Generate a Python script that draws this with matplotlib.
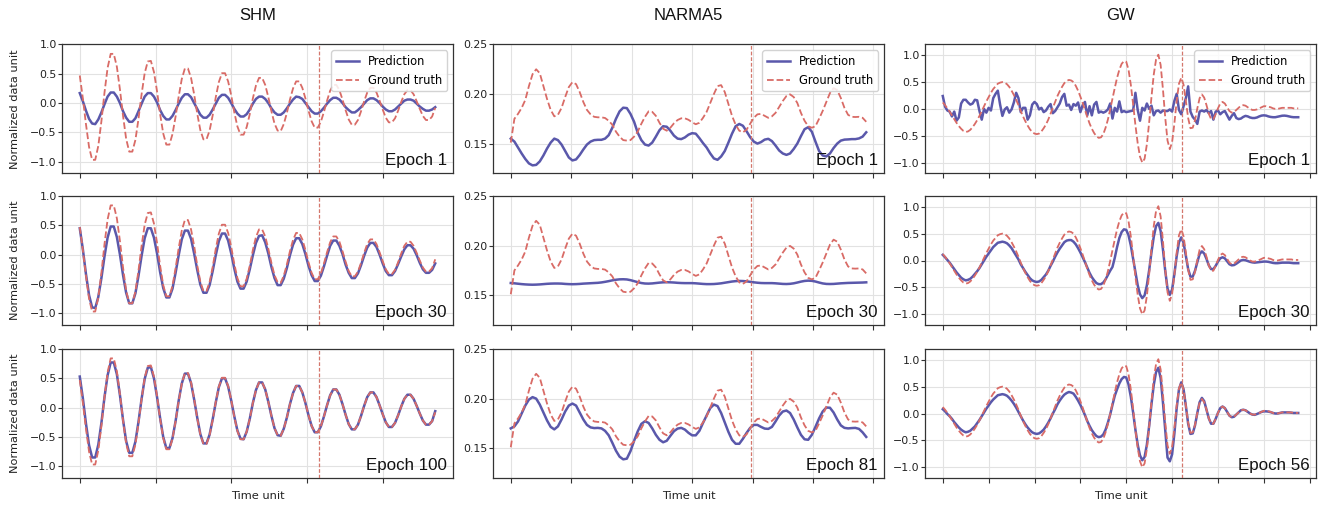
import numpy as np
import matplotlib
matplotlib.use("Agg")
import matplotlib.pyplot as plt

# ---------------- data ----------------
datasets = ["SHM", "NARMA5", "GW"]
epochs = {"SHM": [1, 30, 100], "NARMA5": [1, 30, 81], "GW": [1, 30, 56]}
legend_labels = ["Prediction", "Ground truth"]

SHM_STEP = 469 / 115
shm_truth = [
    0.47, 0.08, -0.36, -0.75, -0.97,
    -0.97, -0.73, -0.31, 0.18, 0.60, 0.84,
    0.84, 0.62, 0.23, -0.22, -0.61, -0.83,
    -0.83, -0.63, -0.27, 0.15, 0.51, 0.71,
    0.72, 0.53, 0.20, -0.19, -0.52, -0.71,
    -0.71, -0.53, -0.23, 0.11, 0.41, 0.59,
    0.59, 0.43, 0.15, -0.18, -0.46, -0.62,
    -0.62, -0.47, -0.21, 0.10, 0.36, 0.51,
    0.51, 0.37, 0.13, -0.16, -0.40, -0.54,
    -0.54, -0.41, -0.19, 0.08, 0.30, 0.43,
    0.43, 0.31, 0.10, -0.14, -0.35, -0.47,
    -0.48, -0.36, -0.17, 0.06, 0.25, 0.37,
    0.37, 0.26, 0.08, -0.13, -0.31, -0.42,
    -0.42, -0.32, -0.15, 0.04, 0.21, 0.31,
    0.31, 0.22, 0.06, -0.12, -0.28, -0.37,
    -0.37, -0.29, -0.14, 0.03, 0.18, 0.26,
    0.26, 0.18, 0.04, -0.11, -0.25, -0.33,
    -0.33, -0.26, -0.13, 0.02, 0.15, 0.22,
    0.22, 0.15, 0.03, -0.10, -0.22, -0.29,
    -0.29, -0.23, -0.08,
]
shm_pred_e1 = [
    0.17, 0.03, -0.13, -0.27, -0.35,
    -0.36, -0.28, -0.16, -0.02, 0.11, 0.18,
    0.18, 0.11, 0.00, -0.14, -0.25, -0.32,
    -0.32, -0.26, -0.14, -0.01, 0.11, 0.17,
    0.17, 0.11, 0.01, -0.12, -0.22, -0.28,
    -0.28, -0.22, -0.12, -0.01, 0.09, 0.15,
    0.15, 0.10, 0.00, -0.10, -0.20, -0.25,
    -0.25, -0.20, -0.11, -0.01, 0.09, 0.14,
    0.14, 0.09, 0.00, -0.10, -0.18, -0.23,
    -0.23, -0.19, -0.11, -0.01, 0.07, 0.11,
    0.11, 0.07, 0.00, -0.09, -0.16, -0.20,
    -0.20, -0.16, -0.09, -0.01, 0.06, 0.11,
    0.10, 0.07, 0.00, -0.07, -0.14, -0.18,
    -0.18, -0.14, -0.08, -0.01, 0.05, 0.09,
    0.09, 0.06, 0.00, -0.07, -0.12, -0.16,
    -0.16, -0.12, -0.07, -0.01, 0.05, 0.08,
    0.08, 0.05, 0.00, -0.06, -0.11, -0.14,
    -0.14, -0.11, -0.06, -0.01, 0.04, 0.06,
    0.06, 0.04, -0.01, -0.06, -0.10, -0.13,
    -0.13, -0.11, -0.07,
]
shm_pred_e30 = [
    0.45, 0.09, -0.33, -0.69, -0.90,
    -0.91, -0.72, -0.40, -0.03, 0.29, 0.48,
    0.48, 0.30, 0.00, -0.35, -0.65, -0.83,
    -0.83, -0.66, -0.36, -0.02, 0.28, 0.45,
    0.45, 0.29, 0.02, -0.30, -0.57, -0.73,
    -0.73, -0.58, -0.31, -0.01, 0.26, 0.41,
    0.41, 0.27, 0.02, -0.26, -0.51, -0.65,
    -0.65, -0.52, -0.28, -0.01, 0.23, 0.36,
    0.36, 0.24, 0.02, -0.24, -0.46, -0.58,
    -0.58, -0.46, -0.25, -0.01, 0.20, 0.32,
    0.33, 0.21, 0.02, -0.21, -0.40, -0.52,
    -0.52, -0.41, -0.23, -0.01, 0.17, 0.28,
    0.28, 0.18, 0.01, -0.19, -0.35, -0.45,
    -0.45, -0.36, -0.20, -0.02, 0.15, 0.24,
    0.24, 0.15, 0.01, -0.17, -0.31, -0.40,
    -0.40, -0.32, -0.18, -0.02, 0.12, 0.20,
    0.20, 0.13, 0.00, -0.15, -0.28, -0.35,
    -0.35, -0.28, -0.16, -0.03, 0.09, 0.16,
    0.16, 0.10, -0.01, -0.14, -0.25, -0.31,
    -0.31, -0.26, -0.15,
]
shm_pred_e100 = [
    0.53, 0.16, -0.27, -0.64, -0.85,
    -0.85, -0.63, -0.26, 0.18, 0.55, 0.77,
    0.77, 0.57, 0.21, -0.21, -0.57, -0.77,
    -0.77, -0.58, -0.24, 0.15, 0.49, 0.68,
    0.69, 0.50, 0.18, -0.18, -0.50, -0.69,
    -0.69, -0.52, -0.23, 0.12, 0.41, 0.58,
    0.58, 0.42, 0.14, -0.17, -0.45, -0.61,
    -0.61, -0.46, -0.20, 0.09, 0.35, 0.50,
    0.50, 0.36, 0.12, -0.15, -0.39, -0.53,
    -0.54, -0.41, -0.19, 0.08, 0.30, 0.43,
    0.43, 0.31, 0.10, -0.14, -0.35, -0.47,
    -0.48, -0.36, -0.17, 0.06, 0.25, 0.37,
    0.37, 0.26, 0.08, -0.13, -0.31, -0.42,
    -0.42, -0.32, -0.15, 0.04, 0.21, 0.31,
    0.31, 0.22, 0.06, -0.12, -0.28, -0.37,
    -0.37, -0.29, -0.14, 0.03, 0.18, 0.26,
    0.26, 0.18, 0.04, -0.11, -0.25, -0.33,
    -0.33, -0.26, -0.13, 0.02, 0.15, 0.22,
    0.22, 0.15, 0.03, -0.10, -0.22, -0.29,
    -0.29, -0.23, -0.06,
]

NARMA_STEP = 6
narma_truth = [
    0.151, 0.175, 0.180, 0.186, 0.194, 0.208, 0.220, 0.225, 0.221, 0.208,
    0.195, 0.184, 0.1775, 0.179, 0.186, 0.197, 0.207, 0.212, 0.210, 0.202,
    0.192, 0.184, 0.1795, 0.177, 0.1765, 0.1765, 0.1758, 0.173, 0.169, 0.162,
    0.157, 0.1535, 0.153, 0.1535, 0.157, 0.162, 0.170, 0.177, 0.1825, 0.182,
    0.178, 0.171, 0.165, 0.163, 0.166, 0.1705, 0.1738, 0.1755, 0.1755, 0.174,
    0.1715, 0.1695, 0.171, 0.176, 0.182, 0.191, 0.200, 0.208, 0.209, 0.202,
    0.190, 0.178, 0.169, 0.163, 0.1614, 0.164, 0.170, 0.176, 0.1795, 0.180,
    0.178, 0.176, 0.1775, 0.181, 0.187, 0.193, 0.198, 0.1997, 0.197, 0.191,
    0.181, 0.173, 0.1675, 0.166, 0.1675, 0.175, 0.183, 0.192, 0.201, 0.206,
    0.204, 0.196, 0.186, 0.179, 0.177, 0.1768, 0.177, 0.176, 0.172,
]
narma_pred_e1 = [
    0.155, 0.152, 0.146, 0.140, 0.1345, 0.130, 0.128, 0.1285, 0.132, 0.138,
    0.145, 0.151, 0.155, 0.1535, 0.149, 0.1425, 0.136, 0.133, 0.134, 0.1385,
    0.144, 0.149, 0.152, 0.1535, 0.1538, 0.1538, 0.155, 0.1585, 0.166, 0.175,
    0.1825, 0.1862, 0.1858, 0.180, 0.172, 0.161, 0.1535, 0.149, 0.148, 0.151,
    0.157, 0.1635, 0.1675, 0.167, 0.163, 0.158, 0.155, 0.1545, 0.1562, 0.159,
    0.1605, 0.160, 0.1555, 0.1505, 0.146, 0.140, 0.135, 0.1336, 0.137, 0.1425,
    0.151, 0.160, 0.1675, 0.1698, 0.168, 0.1625, 0.1565, 0.152, 0.150, 0.1515,
    0.154, 0.1548, 0.1525, 0.148, 0.143, 0.140, 0.1386, 0.140, 0.1445, 0.150,
    0.1575, 0.1645, 0.1665, 0.162, 0.152, 0.1425, 0.138, 0.137, 0.140, 0.1455,
    0.150, 0.153, 0.154, 0.1542, 0.1545, 0.1545, 0.1552, 0.157, 0.1614,
]
narma_pred_e30 = [
    0.1623, 0.1620, 0.1616, 0.1612, 0.1609, 0.1607, 0.1606, 0.1607, 0.1609, 0.1612,
    0.1615, 0.1617, 0.1618, 0.1618, 0.1617, 0.1614, 0.1612, 0.1611, 0.1612, 0.1614,
    0.1617, 0.1619, 0.1621, 0.1623, 0.1625, 0.1629, 0.1635, 0.1642, 0.1650, 0.1656,
    0.1660, 0.1661, 0.1659, 0.1652, 0.1642, 0.1632, 0.1623, 0.1618, 0.1617, 0.1619,
    0.1623, 0.1627, 0.1630, 0.1631, 0.1630, 0.1628, 0.1625, 0.1623, 0.1622, 0.1622,
    0.1622, 0.1620, 0.1617, 0.1614, 0.1612, 0.1612, 0.1613, 0.1616, 0.1620, 0.1626,
    0.1632, 0.1638, 0.1642, 0.1644, 0.1643, 0.1640, 0.1635, 0.1630, 0.1626, 0.1623,
    0.1622, 0.1622, 0.1622, 0.1620, 0.1617, 0.1614, 0.1613, 0.1615, 0.1620, 0.1628,
    0.1637, 0.1644, 0.1647, 0.1645, 0.1638, 0.1628, 0.1619, 0.1614, 0.1613, 0.1614,
    0.1617, 0.1620, 0.1622, 0.1624, 0.1625, 0.1626, 0.1627, 0.1628, 0.1630,
]
narma_pred_e81 = [
    0.170, 0.172, 0.177, 0.185, 0.193, 0.199, 0.2015, 0.200, 0.194, 0.186,
    0.178, 0.1715, 0.169, 0.172, 0.179, 0.187, 0.193, 0.195, 0.193, 0.186,
    0.179, 0.1735, 0.1710, 0.1703, 0.1705, 0.1700, 0.1675, 0.1630, 0.1555, 0.1475,
    0.1415, 0.1388, 0.1395, 0.1470, 0.1575, 0.167, 0.1745, 0.1772, 0.1755, 0.170,
    0.1635, 0.1585, 0.1560, 0.1575, 0.1625, 0.1672, 0.1698, 0.1705, 0.1688, 0.1655,
    0.1630, 0.1630, 0.1675, 0.1755, 0.1830, 0.1905, 0.1940, 0.1925, 0.1855, 0.1760,
    0.1665, 0.1585, 0.1545, 0.1545, 0.1595, 0.1654, 0.1705, 0.1735, 0.1735, 0.1715,
    0.1698, 0.1695, 0.1715, 0.1770, 0.1830, 0.1870, 0.1880, 0.1855, 0.1790, 0.1710,
    0.1635, 0.1590, 0.1585, 0.1635, 0.1715, 0.1800, 0.1870, 0.1910, 0.1908, 0.1860,
    0.1790, 0.1730, 0.1705, 0.1700, 0.1703, 0.1705, 0.1695, 0.1660, 0.1614,
]

GW_STEP = 5
gw_truth = [
    0.12, 0.07, 0.01, -0.05, -0.12, -0.19, -0.26, -0.32, -0.37, -0.41,
    -0.43, -0.42, -0.39, -0.34, -0.28, -0.21, -0.13, -0.04, 0.05, 0.14, 0.22, 0.30, 0.37, 0.42, 0.47, 0.49,
    0.50, 0.49, 0.46, 0.41, 0.34, 0.26, 0.17, 0.07, -0.04, -0.14, -0.23, -0.31, -0.38, -0.43, -0.46,
    -0.47, -0.46, -0.42, -0.36, -0.29, -0.20, -0.09, 0.02, 0.13, 0.24, 0.33, 0.41, 0.48, 0.52, 0.54,
    0.53, 0.50, 0.43, 0.34, 0.23, 0.11, -0.02, -0.15, -0.27, -0.37, -0.45, -0.51, -0.54,
    -0.53, -0.47, -0.35, -0.20, -0.01, 0.19, 0.39, 0.58, 0.73, 0.84, 0.89,
    0.88, 0.73, 0.45, 0.09, -0.30, -0.64, -0.89, -1.00,
    -0.93, -0.66, -0.25, 0.22, 0.64, 0.92, 1.01,
    0.82, 0.37, -0.16, -0.59, -0.75,
    -0.62, -0.27, 0.15, 0.47, 0.58,
    0.45, 0.15, -0.17, -0.36,
    -0.35, -0.21, 0.01, 0.20, 0.27,
    0.21, 0.07, -0.09, -0.19,
    -0.19, -0.10, 0.01, 0.10, 0.13,
    0.10, 0.03, -0.04, -0.07,
    -0.06, -0.02, 0.02, 0.06, 0.07,
    0.06, 0.03, 0.00, -0.02, -0.02,
    -0.01, 0.01, 0.03, 0.05, 0.05,
    0.04, 0.03, 0.01, 0.00,
    0.00, 0.01, 0.02, 0.02,
    0.02, 0.02, 0.02, 0.01, 0.01, 0.01,
]
gw_pred_e1 = [
    0.24, 0.04, -0.03, -0.05, -0.14, -0.05, -0.22, -0.16, 0.10, 0.17,
    0.17, 0.12, 0.08, 0.10, 0.17, 0.16, -0.04, -0.20, 0.00, -0.07,
    0.02, -0.03, 0.20, 0.28, 0.34, 0.08, -0.13, -0.01, 0.03, -0.07,
    -0.01, 0.12, 0.30, 0.20, -0.06, 0.02, 0.02, -0.20, -0.12, 0.08,
    0.13, 0.09, -0.01, 0.02, -0.06, -0.03, 0.04, 0.09, -0.08, -0.04,
    0.03, 0.10, 0.22, 0.28, 0.06, 0.08, -0.02, 0.09, 0.06, 0.12,
    -0.06, 0.07, 0.13, -0.12, 0.05, -0.12, 0.08, 0.13, -0.07, -0.05,
    -0.07, -0.05, -0.01, 0.10, -0.18, 0.02, -0.05, 0.14, -0.06, -0.04,
    -0.06, -0.05, -0.04, -0.03, 0.30, -0.02, -0.22, 0.02, -0.03, 0.10,
    0.00, 0.06, -0.12, -0.04, -0.03, -0.07, -0.03, -0.04, -0.04, -0.01,
    -0.05, 0.15, 0.28, -0.02, -0.10, 0.05, 0.20, 0.42, -0.05, -0.15,
    -0.20, -0.28, -0.05, -0.03, -0.05, -0.02, -0.08, -0.04, -0.20, -0.05,
    -0.03, -0.10, -0.06, -0.04, -0.12, -0.20, -0.13, -0.08, -0.17, -0.19,
    -0.18, -0.15, -0.13, -0.14, -0.16, -0.17, -0.17, -0.16, -0.14, -0.125,
    -0.12, -0.125, -0.14, -0.15, -0.155, -0.155, -0.145, -0.135, -0.127, -0.125,
    -0.13, -0.14, -0.15, -0.155, -0.155, -0.155,
]
gw_pred_e30 = [
    0.105, 0.06, 0.01, -0.04, -0.10, -0.16, -0.22, -0.27, -0.32, -0.35,
    -0.37, -0.36, -0.34, -0.30, -0.25, -0.20, -0.14, -0.07, 0.00, 0.07, 0.13, 0.19, 0.25, 0.29, 0.33, 0.34,
    0.35, 0.34, 0.32, 0.28, 0.23, 0.16, 0.09, 0.02, -0.07, -0.14, -0.21, -0.27, -0.33, -0.37, -0.39,
    -0.40, -0.39, -0.36, -0.31, -0.26, -0.19, -0.10, -0.02, 0.07, 0.15, 0.22, 0.28, 0.34, 0.37, 0.38,
    0.38, 0.35, 0.30, 0.23, 0.15, 0.06, -0.03, -0.13, -0.23, -0.31, -0.37, -0.42, -0.44,
    -0.44, -0.41, -0.35, -0.27, -0.19, -0.12, 0.05, 0.25, 0.42, 0.53, 0.58,
    0.57, 0.47, 0.28, 0.03, -0.23, -0.46, -0.63, -0.70,
    -0.65, -0.46, -0.18, 0.15, 0.44, 0.64, 0.70,
    0.55, 0.21, -0.19, -0.52, -0.64,
    -0.54, -0.25, 0.08, 0.34, 0.43,
    0.33, 0.09, -0.16, -0.30,
    -0.30, -0.19, -0.03, 0.12, 0.17,
    0.13, 0.03, -0.09, -0.16,
    -0.16, -0.10, -0.02, 0.04, 0.06,
    0.04, -0.015, -0.07, -0.09,
    -0.085, -0.06, -0.03, 0.00, 0.01,
    0.005, -0.01, -0.025, -0.035, -0.04,
    -0.035, -0.03, -0.025, -0.02, -0.02,
    -0.025, -0.035, -0.045, -0.05,
    -0.05, -0.045, -0.04, -0.04,
    -0.04, -0.04, -0.045, -0.05, -0.05, -0.05,
]
gw_pred_e56 = [
    0.08, 0.04, -0.01, -0.05, -0.10, -0.16, -0.21, -0.26, -0.30, -0.33,
    -0.35, -0.34, -0.32, -0.28, -0.24, -0.18, -0.12, -0.05, 0.02, 0.09, 0.15, 0.21, 0.26, 0.30, 0.34, 0.35,
    0.36, 0.35, 0.33, 0.29, 0.24, 0.18, 0.11, 0.03, -0.05, -0.13, -0.20, -0.26, -0.31, -0.35, -0.37,
    -0.38, -0.37, -0.34, -0.30, -0.24, -0.17, -0.09, 0.00, 0.08, 0.17, 0.24, 0.30, 0.35, 0.38, 0.40,
    0.39, 0.37, 0.31, 0.24, 0.16, 0.07, -0.03, -0.14, -0.23, -0.31, -0.37, -0.42, -0.44,
    -0.43, -0.39, -0.30, -0.17, -0.02, 0.16, 0.33, 0.45, 0.56, 0.64, 0.68,
    0.67, 0.54, 0.31, 0.02, -0.30, -0.58, -0.78, -0.87,
    -0.81, -0.58, -0.23, 0.17, 0.53, 0.77, 0.85,
    0.66, 0.21, -0.31, -0.82, -0.89,
    -0.76, -0.37, 0.10, 0.45, 0.58,
    0.45, 0.14, -0.19, -0.38,
    -0.37, -0.22, 0.01, 0.21, 0.29,
    0.23, 0.07, -0.09, -0.19,
    -0.19, -0.10, 0.01, 0.10, 0.13,
    0.10, 0.03, -0.04, -0.07,
    -0.06, -0.02, 0.02, 0.06, 0.07,
    0.06, 0.03, 0.00, -0.02, -0.025,
    -0.01, 0.01, 0.03, 0.04, 0.04,
    0.035, 0.025, 0.01, 0.00,
    0.00, 0.01, 0.02, 0.02,
    0.02, 0.02, 0.015, 0.01, 0.01, 0.01,
]

truths = {"SHM": shm_truth, "NARMA5": narma_truth, "GW": gw_truth}
preds = {
    "SHM": [shm_pred_e1, shm_pred_e30, shm_pred_e100],
    "NARMA5": [narma_pred_e1, narma_pred_e30, narma_pred_e81],
    "GW": [gw_pred_e1, gw_pred_e30, gw_pred_e56],
}
steps = {"SHM": SHM_STEP, "NARMA5": NARMA_STEP, "GW": GW_STEP}
split_time = {"SHM": 316, "NARMA5": 397, "GW": 522}

# ---------------- style / layout ----------------
W, H = 1330, 509
PRED_C = "#5a58ab"
TRUTH_C = "#d96b66"
VLINE_C = "#d4776c"

cfg = {
    "SHM": dict(xticks=[0, 100, 200, 300, 400], ylim=(-1.2, 1.0),
                yticks=[-1.0, -0.5, 0.0, 0.5, 1.0], fmt="{:.1f}"),
    "NARMA5": dict(xticks=[0, 100, 200, 300, 400, 500, 600], ylim=(0.12, 0.25),
                   yticks=[0.15, 0.20, 0.25], fmt="{:.2f}"),
    "GW": dict(xticks=[0, 100, 200, 300, 400, 500, 600, 700, 800], ylim=(-1.2, 1.2),
               yticks=[-1.0, -0.5, 0.0, 0.5, 1.0], fmt="{:.1f}"),
}
col_lr = [(62, 453), (493, 884), (925, 1316)]
row_tb = [(44.5, 173.3), (196, 325), (349, 478)]

fig = plt.figure(figsize=(W / 100, H / 100), dpi=100)

for c, name in enumerate(datasets):
    l, r = col_lr[c]
    gt = np.array(truths[name])
    t_gt = np.arange(len(gt)) * steps[name]
    xmax = t_gt[-1]
    for rr in range(3):
        t, b = row_tb[rr]
        ax = fig.add_axes([l / W, 1 - b / H, (r - l) / W, (b - t) / H])
        pv = np.array(preds[name][rr])
        t_p = np.arange(len(pv)) * steps[name]
        ax.plot(t_p, pv, color=PRED_C, lw=1.8, label=legend_labels[0], zorder=3)
        ax.plot(t_gt, gt, color=TRUTH_C, lw=1.3, ls=(0, (3.7, 1.6)),
                label=legend_labels[1], zorder=4)
        ax.axvline(split_time[name], color=VLINE_C, lw=0.9, ls=(0, (3, 1.5)), zorder=5)

        ax.set_xlim(-0.05 * xmax, 1.05 * xmax)
        ax.set_ylim(*cfg[name]["ylim"])
        ax.set_xticks(cfg[name]["xticks"])
        ax.set_xticklabels([])
        yt = cfg[name]["yticks"]
        ax.set_yticks(yt)
        ax.set_yticklabels([cfg[name]["fmt"].format(v).replace("-", "\u2212") for v in yt])
        ax.tick_params(axis="x", direction="out", length=3.5, width=0.8, color="#333333")
        ax.tick_params(axis="y", direction="out", length=3.0, width=0.8, pad=0.8,
                       labelsize=7.9, labelcolor="#222222", color="#333333")
        ax.grid(True, color="#e2e2e2", lw=0.8)
        ax.set_axisbelow(True)
        for sp in ax.spines.values():
            sp.set_color("#333333")
            sp.set_linewidth(0.9)

        ax.text(0.984, 0.064, f"Epoch {epochs[name][rr]}", transform=ax.transAxes,
                ha="right", va="baseline", fontsize=12.2, family="Liberation Sans",
                color="#111111", zorder=6)

        if rr == 0:
            ax.legend(loc="upper right", fontsize=8.3, framealpha=0.85,
                      edgecolor="#cccccc", borderaxespad=0.5)
        if c == 0:
            ax.set_ylabel("Normalized data unit", fontsize=8.2, color="#222222", va="center")
            ax.yaxis.set_label_coords(-(62 - 15) / (r - l), 0.5)
        if rr == 2:
            ax.set_xlabel("Time unit", fontsize=8.2, color="#222222", va="center")
            ax.xaxis.set_label_coords(0.5, -(496 - 478) / (b - t))

    fig.text(((l + r) / 2) / W, 1 - 15 / H, name, ha="center", va="center",
             fontsize=12, family="Liberation Sans", color="#111111")

fig.savefig("out.png", dpi=100)
